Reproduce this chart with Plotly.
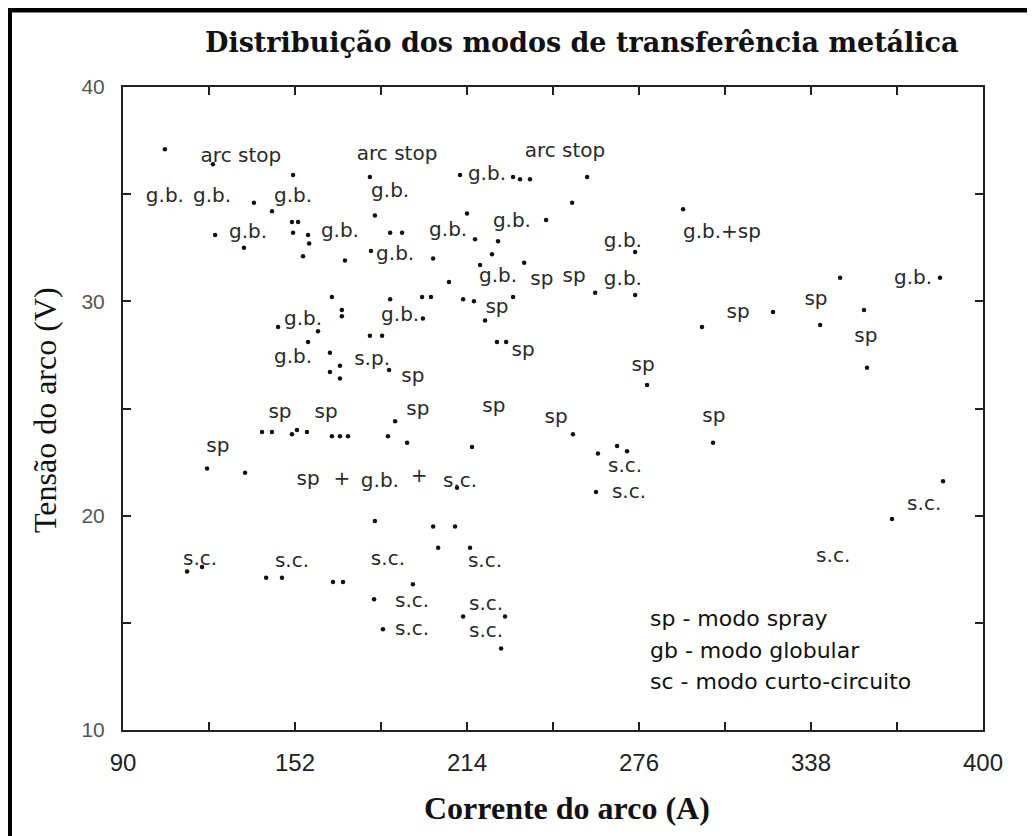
import plotly.graph_objects as go

# ---------------- data ----------------
# measured points (Corrente do arco [A], Tensão do arco [V])
dot_x = [105.1, 122.4, 151.3, 137.2, 143.7, 179.0, 180.8, 123.2, 133.6, 150.9,
         153.1, 151.3, 156.7, 157.1, 154.9, 170.0, 186.3, 190.6, 179.4, 165.3,
         168.9, 168.9, 186.3, 145.9, 160.3, 179.0, 183.4, 156.7, 164.6, 164.6,
         168.2, 168.2, 185.9, 140.1, 143.7, 150.9, 152.7, 156.3, 165.3, 168.2,
         171.1, 188.1, 185.5, 120.3, 134.0, 180.8, 211.5, 230.6, 233.1, 236.7,
         257.3, 251.9, 214.0, 216.9, 242.5, 225.2, 201.8, 223.0, 234.6, 274.6,
         207.5, 218.7, 260.2, 274.6, 197.8, 201.0, 212.6, 216.5, 230.6, 198.1,
         220.5, 224.8, 228.1, 278.9, 192.4, 215.8, 252.2, 261.2, 268.1, 271.7,
         260.5, 210.4, 201.8, 209.7, 203.6, 215.1, 291.9, 348.5, 384.5, 324.3,
         357.1, 341.3, 298.7, 358.2, 302.7, 385.6, 367.2, 113.1, 118.5, 141.6,
         147.3, 165.7, 169.3, 180.5, 183.7, 194.5, 212.6, 227.7, 226.3]
dot_y = [37.1, 36.4, 35.9, 34.6, 34.2, 35.8, 34.0, 33.1, 32.5, 33.7,
         33.7, 33.2, 33.1, 32.7, 32.1, 31.9, 33.2, 33.2, 32.35, 30.2,
         29.6, 29.3, 30.1, 28.8, 28.6, 28.4, 28.4, 28.1, 27.6, 26.7,
         27.0, 26.4, 26.8, 23.9, 23.9, 23.8, 24.0, 23.9, 23.7, 23.7,
         23.7, 24.4, 23.7, 22.2, 22.0, 19.75, 35.9, 35.8, 35.7, 35.7,
         35.8, 34.6, 34.1, 32.9, 33.8, 32.8, 32.0, 32.2, 31.8, 32.3,
         30.9, 31.7, 30.4, 30.3, 30.2, 30.2, 30.1, 30.0, 30.2, 29.2,
         29.1, 28.1, 28.1, 26.1, 23.4, 23.2, 23.8, 22.9, 23.25, 23.0,
         21.1, 21.3, 19.5, 19.5, 18.5, 18.5, 34.3, 31.1, 31.1, 29.5,
         29.6, 28.9, 28.8, 26.9, 23.4, 21.6, 19.85, 17.4, 17.6, 17.1,
         17.1, 16.9, 16.9, 16.1, 14.7, 16.8, 15.3, 15.3, 13.8]

# mode labels written next to the points
label_x = [132.5, 188.8, 249.3, 105.1, 122.1, 151.3, 186.3, 135.1, 168.2, 188.1,
           207.2, 221.2, 230.2, 270.2, 225.2, 241.0, 252.6, 270.2, 305.9, 374.8,
           154.9, 189.9, 224.8, 311.7, 339.8, 357.8, 151.3, 179.8, 234.2, 194.5,
           277.5, 146.6, 163.2, 196.3, 223.7, 246.1, 303.0, 124.2, 156.7, 168.9,
           182.6, 196.7, 211.5, 271.0, 272.4, 378.8, 117.8, 150.9, 185.5, 220.5,
           194.2, 220.9, 194.2, 220.9, 346.0]
label_y = [36.75, 36.85, 36.95, 34.87, 34.87, 34.87, 35.1, 33.2, 33.25, 32.15,
           33.3, 35.9, 33.7, 32.75, 31.15, 31.0, 31.15, 31.0, 33.2, 31.05,
           29.15, 29.3, 29.7, 29.45, 30.05, 28.35, 27.35, 27.25, 27.7, 26.45,
           27.0, 24.8, 24.8, 24.95, 25.05, 24.55, 24.6, 23.2, 21.65, 21.65,
           21.55, 21.8, 21.55, 22.25, 21.05, 20.5, 17.95, 17.85, 17.95, 17.85,
           15.95, 15.85, 14.65, 14.55, 18.05]
label_text = ["arc stop", "arc stop", "arc stop", "g.b.", "g.b.", "g.b.", "g.b.", "g.b.", "g.b.", "g.b.",
              "g.b.", "g.b.", "g.b.", "g.b.", "g.b.", "sp", "sp", "g.b.", "g.b.+sp", "g.b.",
              "g.b.", "g.b.", "sp", "sp", "sp", "sp", "g.b.", "s.p.", "sp", "sp",
              "sp", "sp", "sp", "sp", "sp", "sp", "sp", "sp", "sp", "+",
              "g.b.", "+", "s.c.", "s.c.", "s.c.", "s.c.", "s.c.", "s.c.", "s.c.", "s.c.",
              "s.c.", "s.c.", "s.c.", "s.c.", "s.c."]

x_tickvals = [90, 121, 152, 183, 214, 245, 276, 307, 338, 369, 400]
x_ticktext = ["90", "", "152", "", "214", "", "276", "", "338", "", "400"]
y_tickvals = [10, 15, 20, 25, 30, 35, 40]
y_ticktext = ["10", "", "20", "", "30", "", "40"]

key_lines = ["sp - modo spray", "gb - modo globular", "sc - modo curto-circuito"]
key_y = [15.2, 13.7, 12.25]
key_x = 279.3

title_text = "Distribuição dos modos de transferência metálica"
x_title = "Corrente do arco (A)"
y_title = "Tensão do arco (V)"

# ---------------- figure ----------------
# the page body adds an 8px offset; plot area targets x 123..983, y 87..730 in the window
PL, PR, PT, PB = 123, 983, 87, 730
PW, PH = PR - PL, PB - PT


def px(xpix):
    return (xpix - PL) / PW


def py(ypix):
    return (PB - ypix) / PH


fig = go.Figure()

fig.add_trace(go.Scatter(
    x=dot_x, y=dot_y, mode="markers",
    marker=dict(size=4.5, color="#111111"),
    hoverinfo="x+y", showlegend=False))

fig.add_trace(go.Scatter(
    x=label_x, y=label_y, mode="text", text=label_text,
    textposition="middle center",
    textfont=dict(family="DejaVu Sans", size=20, color="#2a2a2a"),
    hoverinfo="skip", showlegend=False))

annotations = []
for t, yy in zip(key_lines, key_y):
    annotations.append(dict(x=key_x, y=yy, xref="x", yref="y", text=t,
                            showarrow=False, xanchor="left", yanchor="middle",
                            font=dict(family="DejaVu Sans", size=22, color="#111111")))

annotations.append(dict(x=px(567), y=py(808), xref="paper", yref="paper",
                        text="<b>" + x_title + "</b>", showarrow=False,
                        xanchor="center", yanchor="middle",
                        font=dict(family="Liberation Serif", size=32, color="#111111")))
annotations.append(dict(x=px(45), y=py(410), xref="paper", yref="paper",
                        text=y_title, showarrow=False, textangle=-90,
                        xanchor="center", yanchor="middle",
                        font=dict(family="Liberation Serif", size=32, color="#111111")))
annotations.append(dict(x=px(582), y=py(42), xref="paper", yref="paper",
                        text="<b>" + title_text + "</b>", showarrow=False,
                        xanchor="center", yanchor="middle",
                        font=dict(family="DejaVu Serif", size=27, color="#111111")))

shapes = [
    # outer black frame of the picture (left and top edges)
    dict(type="line", xref="paper", yref="paper",
         x0=px(9), x1=px(9), y0=py(845), y1=py(8),
         line=dict(color="black", width=6)),
    dict(type="line", xref="paper", yref="paper",
         x0=px(6), x1=px(1045), y0=py(10), y1=py(10),
         line=dict(color="black", width=5)),
]

axis_common = dict(showline=True, linecolor="#222222", linewidth=2, mirror="ticks",
                   ticks="inside", ticklen=8, tickwidth=1.5, tickcolor="#222222",
                   showgrid=False, zeroline=False)

fig.update_layout(
    width=1027, height=828,
    margin=dict(l=PL - 8, r=1035 - PR, t=PT - 8, b=836 - PB),
    paper_bgcolor="white", plot_bgcolor="white",
    xaxis=dict(range=[90, 400], tickmode="array", tickvals=x_tickvals, ticktext=x_ticktext,
               tickfont=dict(family="Liberation Sans", size=24, color="#222222"),
               ticklabelstandoff=10, **axis_common),
    yaxis=dict(range=[10, 40], tickmode="array", tickvals=y_tickvals, ticktext=y_ticktext,
               tickfont=dict(family="Liberation Sans", size=21, color="#555555"),
               ticklabelstandoff=12, **axis_common),
    annotations=annotations,
    shapes=shapes,
)

fig.write_html("out.html")
